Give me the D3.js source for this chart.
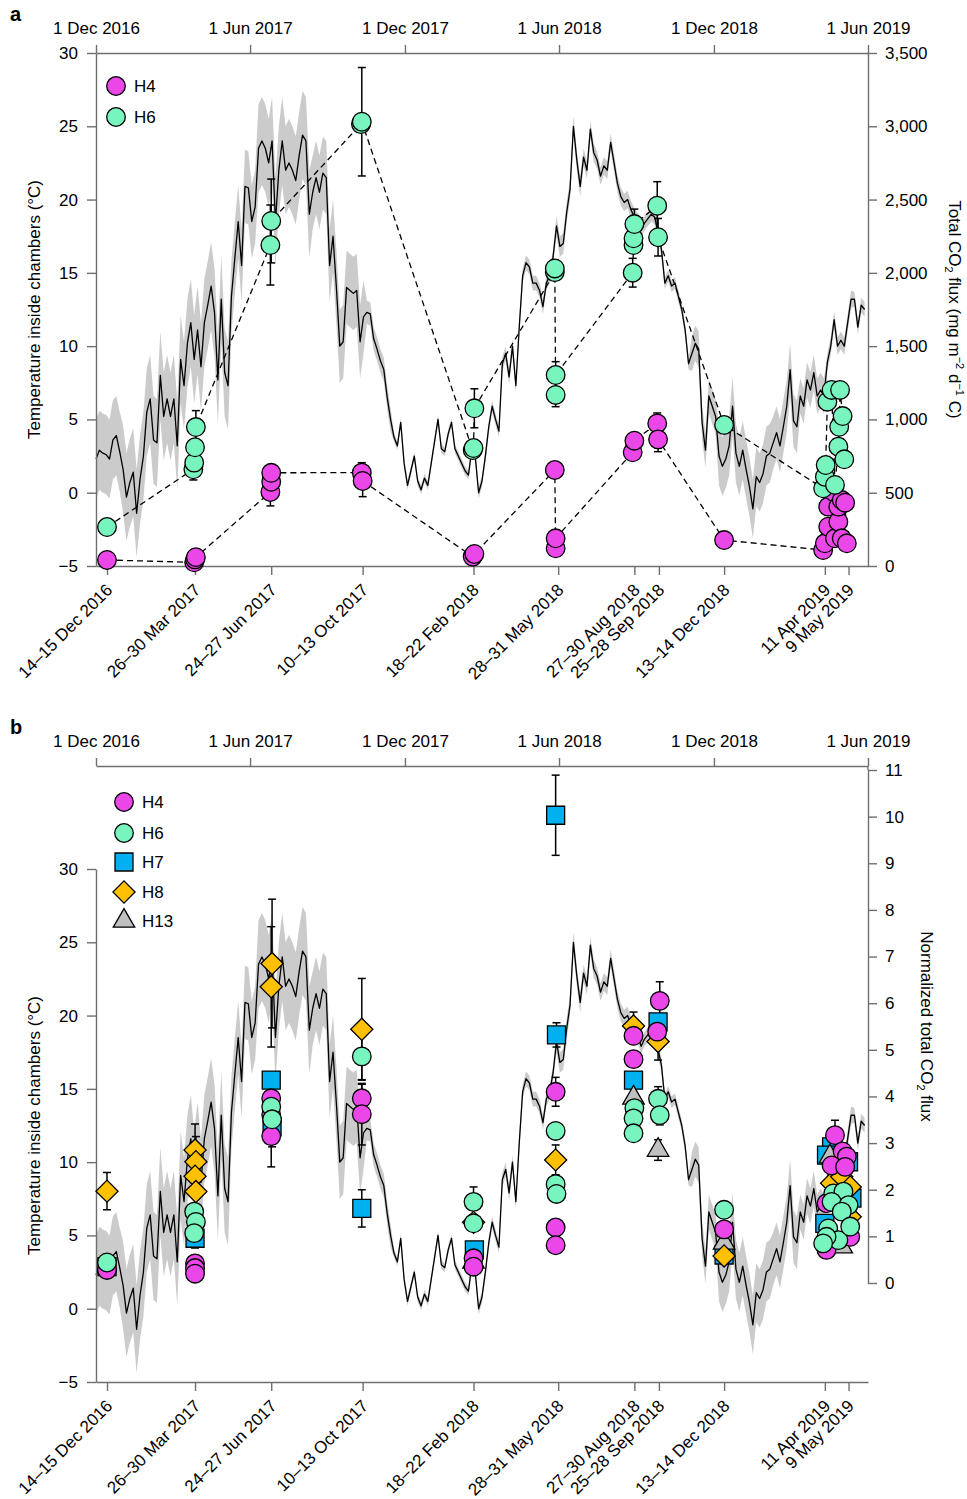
<!DOCTYPE html>
<html>
<head>
<meta charset="utf-8">
<script src="https://cdn.jsdelivr.net/npm/d3@7"></script>
<style>
  body { margin: 0; background: #fff; }
  svg { font-family: "Liberation Sans", Arial, Helvetica, sans-serif; }
</style>
</head>
<body>
<svg id="chart" width="967" height="1499"></svg>
<script>
// temperature inside chambers, one reading every 4 days from 1 Dec 2016
const tempStart = "2016-12-01";
const tempStepDays = 4;
const tempMean = [
  2.3, 2.9, 2.7, 2.6, 2.3, 3.6, 3.9, 2.8, 1.6, -0.3,
  0.7, 1.4, -1.4, 0.9, 2.5, 5.5, 6.4, 3.6, 3.4, 8.0,
  5.2, 6.4, 5.2, 6.4, 3.2, 9.1, 7.3, 10.2, 11.6, 9.1,
  11.1, 8.6, 11.6, 12.8, 14.1, 12.3, 7.7, 13.2, 8.2, 7.3,
  13.4, 16.0, 18.5, 15.5, 20.9, 20.8, 18.5, 19.5, 23.5, 24.0,
  23.5, 22.5, 24.0, 18.5, 22.0, 24.0, 22.0, 22.5, 22.0, 21.3,
  23.0, 24.4, 24.0, 19.0, 20.5, 21.5, 20.5, 21.8, 21.5, 15.5,
  17.5, 14.0, 10.0, 10.3, 14.0, 13.8, 13.6, 13.8, 10.3, 12.0,
  12.3, 12.2, 10.5, 9.8, 9.0, 8.4, 6.5, 5.0, 3.8, 3.2,
  4.8, 2.0, 0.5, 1.5, 2.5, 0.8, 0.2, 1.0, 0.5, 2.0,
  3.5, 5.0, 3.0, 2.8, 4.0, 4.8, 3.0, 2.5, 2.0, 1.5,
  1.2, 3.0, 2.5, 0.0, 0.8, 2.5, 4.5, 5.9, 5.0, 4.2,
  8.8, 9.5, 7.9, 10.0, 7.3, 11.3, 14.8, 15.7, 15.4, 14.3,
  14.3, 13.8, 12.7, 14.3, 14.8, 16.1, 18.2, 16.8, 17.0, 19.1,
  20.7, 25.0, 22.7, 20.9, 22.9, 22.0, 24.8, 23.2, 22.7, 21.6,
  22.3, 22.0, 23.9, 22.5, 21.1, 20.2, 19.8, 20.0, 19.3, 18.8,
  18.6, 17.9, 18.4, 18.7, 19.0, 18.8, 17.7, 16.6, 14.3, 14.8,
  14.1, 14.3, 13.4, 12.5, 11.1, 8.8, 9.5, 10.2, 9.8, 4.8,
  2.9, 6.6, 5.9, 5.2, 2.5, 1.8, 2.3, 3.2, 5.9, 2.7,
  1.8, 2.9, 1.6, 0.4, -1.1, 1.1, 0.7, 1.3, 2.5, 2.7,
  3.4, 4.1, 3.2, 4.5, 5.9, 8.4, 4.9, 4.5, 6.6, 5.9,
  7.7, 7.0, 8.2, 6.6, 7.0, 6.6, 8.9, 10.0, 11.8, 10.0,
  10.4, 10.0, 11.6, 13.2, 13.2, 11.3, 12.8, 12.5
];
// half width of the grey band, one value per 8 readings (32 days)
const tempSpread = [
  2.7, 3.0, 3.0, 3.0, 3.0, 2.5, 3.0, 3.0, 2.5, 2.5,
  0.8, 0.3, 0.3, 0.3, 0.4, 0.5, 0.5, 0.7, 0.6, 0.6,
  0.5, 0.4, 1.2, 2.0, 2.0, 1.8, 1.2, 0.6, 0.5
];

const topTickDates = ["2016-12-01", "2017-06-01", "2017-12-01", "2018-06-01", "2018-12-01", "2019-06-01"];
const topTickLabels = ["1 Dec 2016", "1 Jun 2017", "1 Dec 2017", "1 Jun 2018", "1 Dec 2018", "1 Jun 2019"];

const campaignDates = ["2016-12-14", "2017-03-28", "2017-06-26", "2017-10-12", "2018-02-20", "2018-05-31",
  "2018-08-29", "2018-09-27", "2018-12-13", "2019-04-11", "2019-05-09"];
const campaignLabels = ["14–15 Dec 2016", "26–30 Mar 2017", "24–27 Jun 2017", "10–13 Oct 2017", "18–22 Feb 2018",
  "28–31 May 2018", "27–30 Aug 2018", "25–28 Sep 2018", "13–14 Dec 2018", "11 Apr 2019", "9 May 2019"];

const tempTicks = [-5, 0, 5, 10, 15, 20, 25, 30];
const fluxTicks = [0, 500, 1000, 1500, 2000, 2500, 3000, 3500];
const normTicks = [0, 1, 2, 3, 4, 5, 6, 7, 8, 9, 10, 11];

// panel a: total CO2 flux (mg m-2 d-1 C) -> [date, value, error]
const h4Flux = [
  ["2016-12-14", 41, 0],
  ["2017-03-27", 25, 0], ["2017-03-28", 45, 0], ["2017-03-29", 60, 0],
  ["2017-06-25", 505, 95], ["2017-06-26", 575, 0], ["2017-06-26", 636, 0],
  ["2017-10-11", 637, 68], ["2017-10-12", 580, 107],
  ["2018-02-19", 64, 0], ["2018-02-21", 82, 0],
  ["2018-05-27", 655, 0], ["2018-05-28", 121, 0], ["2018-05-28", 189, 0],
  ["2018-08-27", 776, 0], ["2018-08-29", 855, 0],
  ["2018-09-25", 973, 71], ["2018-09-26", 864, 84],
  ["2018-12-13", 177, 0],
  ["2019-04-09", 109, 0], ["2019-04-11", 155, 0], ["2019-04-15", 268, 0], ["2019-04-15", 405, 0],
  ["2019-04-21", 507, 0], ["2019-04-23", 189, 0], ["2019-04-27", 302, 0], ["2019-04-27", 405, 0],
  ["2019-05-01", 450, 0], ["2019-05-01", 189, 0], ["2019-05-05", 432, 0], ["2019-05-07", 155, 0]
];
const h6Flux = [
  ["2016-12-14", 266, 0],
  ["2017-03-26", 660, 73], ["2017-03-27", 705, 0], ["2017-03-28", 810, 0], ["2017-03-29", 948, 112],
  ["2017-06-25", 2190, 273], ["2017-06-26", 2354, 286],
  ["2017-10-10", 3015, 0], ["2017-10-11", 3031, 370],
  ["2018-02-19", 791, 0], ["2018-02-20", 805, 0], ["2018-02-21", 1076, 133],
  ["2018-05-27", 2005, 0], ["2018-05-27", 2030, 60], ["2018-05-28", 1167, 80], ["2018-05-28", 1303, 91],
  ["2018-08-27", 2001, 98], ["2018-08-28", 2190, 0], ["2018-08-28", 2236, 0], ["2018-08-29", 2333, 102],
  ["2018-09-25", 2458, 164], ["2018-09-26", 2243, 128],
  ["2018-12-13", 962, 0],
  ["2019-04-09", 530, 0], ["2019-04-11", 609, 0], ["2019-04-12", 689, 0], ["2019-04-14", 1121, 0],
  ["2019-04-19", 1201, 0], ["2019-04-23", 553, 0], ["2019-04-27", 814, 0], ["2019-04-28", 950, 0],
  ["2019-04-29", 1201, 0], ["2019-05-02", 1023, 0], ["2019-05-04", 728, 0]
];

// panel b: normalized total CO2 flux -> [date, value, error]
const h4Norm = [
  ["2016-12-14", 0.28, 0],
  ["2017-03-28", 0.42, 0], ["2017-03-28", 0.32, 0], ["2017-03-28", 0.2, 0],
  ["2017-06-26", 3.96, 0], ["2017-06-26", 3.6, 0], ["2017-06-26", 3.15, 0.66],
  ["2017-10-11", 3.96, 0.3], ["2017-10-11", 3.62, 0.66],
  ["2018-02-20", 0.53, 0], ["2018-02-20", 0.35, 0],
  ["2018-05-28", 4.1, 0.31], ["2018-05-28", 1.19, 0], ["2018-05-28", 0.81, 0],
  ["2018-08-28", 5.3, 0], ["2018-08-28", 4.8, 0],
  ["2018-09-28", 6.05, 0.41], ["2018-09-25", 5.39, 0],
  ["2018-12-13", 1.15, 0],
  ["2019-04-23", 3.17, 0.32], ["2019-05-02", 2.82, 0], ["2019-05-07", 2.71, 0], ["2019-04-19", 2.52, 0],
  ["2019-05-05", 2.49, 0], ["2019-04-13", 1.71, 0], ["2019-04-13", 0.71, 0], ["2019-05-11", 0.99, 0]
];
const h6Norm = [
  ["2016-12-14", 0.44, 0],
  ["2017-03-27", 1.53, 0], ["2017-03-29", 1.31, 0], ["2017-03-27", 1.07, 0],
  ["2017-06-26", 3.78, 0], ["2017-06-27", 3.51, 0.59],
  ["2017-10-11", 4.86, 0.5],
  ["2018-02-20", 1.74, 0.32], ["2018-02-20", 1.28, 0],
  ["2018-05-28", 3.26, 0], ["2018-05-28", 2.12, 0], ["2018-05-29", 1.91, 0],
  ["2018-08-29", 3.75, 0], ["2018-08-28", 3.53, 0], ["2018-08-28", 3.21, 0],
  ["2018-09-26", 3.95, 0.26], ["2018-09-28", 3.6, 0.21],
  ["2018-12-13", 1.57, 0],
  ["2019-04-21", 1.92, 0], ["2019-05-03", 1.96, 0], ["2019-04-19", 1.74, 0], ["2019-05-09", 1.67, 0],
  ["2019-05-01", 1.53, 0], ["2019-04-15", 1.17, 0], ["2019-04-27", 0.92, 0], ["2019-04-13", 0.99, 0],
  ["2019-05-11", 1.21, 0], ["2019-04-09", 0.85, 0]
];
const h7Norm = [
  ["2016-12-14", 0.35, 0],
  ["2017-03-28", 0.96, 0.21],
  ["2017-06-26", 4.35, 0], ["2017-06-27", 3.35, 0],
  ["2017-10-11", 1.6, 0.4],
  ["2018-02-21", 0.71, 0],
  ["2018-05-28", 10.03, 0.86], ["2018-05-29", 5.32, 0.26],
  ["2018-08-28", 4.35, 0],
  ["2018-09-26", 5.6, 0],
  ["2018-12-13", 0.6, 0],
  ["2019-04-19", 2.92, 0], ["2019-04-13", 2.74, 0], ["2019-04-11", 1.28, 0], ["2019-05-13", 1.82, 0],
  ["2019-05-09", 2.6, 0]
];
const h8Norm = [
  ["2016-12-14", 1.97, 0.4],
  ["2017-03-28", 2.85, 0.56], ["2017-03-29", 2.6, 0.54], ["2017-03-28", 2.29, 0], ["2017-03-29", 1.96, 0],
  ["2017-06-27", 6.85, 1.38], ["2017-06-26", 6.35, 1.29],
  ["2017-10-11", 5.44, 1.09],
  ["2018-02-20", 1.3, 0],
  ["2018-05-28", 2.64, 0.32],
  ["2018-08-28", 5.51, 0.3],
  ["2018-09-26", 5.18, 0.4],
  ["2018-12-13", 0.58, 0],
  ["2019-04-19", 2.14, 0], ["2019-05-01", 2.28, 0], ["2019-05-11", 2.06, 0], ["2019-05-11", 1.42, 0]
];
const h13Norm = [
  ["2018-02-20", 0.45, 0],
  ["2018-08-28", 3.97, 0],
  ["2018-09-26", 2.85, 0.22],
  ["2018-12-13", 0.86, 0],
  ["2019-04-17", 2.71, 0], ["2019-05-01", 0.78, 0]
];

const colH4 = "#ea46e8", colH6 = "#78f4be", colH7 = "#00b0f0", colH8 = "#ffc000", colH13 = "#c0c0c0";
const axisColor = "#6f6f6f";

const svg = d3.select("#chart");
const parseDate = d3.timeParse("%Y-%m-%d");

const x = d3.scaleTime()
  .domain([parseDate("2016-12-01"), parseDate("2019-06-01")])
  .range([96, 868]);

const tempRows = tempMean.map((t, i) => ({
  date: d3.timeDay.offset(parseDate(tempStart), i * tempStepDays),
  t: t,
  s: tempSpread[Math.floor(i / 8)]
}));

const symbolPath = {
  circle: d3.symbol(d3.symbolCircle, 272)(),
  square: d3.symbol(d3.symbolSquare, 324)(),
  diamond: d3.symbol(d3.symbolSquare, 245)(),
  triangle: d3.symbol(d3.symbolTriangle, 200)()
};

function marker(g, shape, color, cx, cy) {
  g.append("path")
    .attr("d", symbolPath[shape])
    .attr("transform", `translate(${cx},${cy})` + (shape === "diamond" ? " rotate(45)" : ""))
    .attr("fill", color)
    .attr("stroke", "#000")
    .attr("stroke-width", 1.3);
}

function styleAxis(sel) {
  sel.attr("font-size", 17).attr("font-family", null);
  sel.selectAll(".domain, .tick line").attr("stroke", axisColor).attr("stroke-width", 1.4);
  sel.selectAll(".tick text").attr("fill", "#000");
}

function drawPanel(p) {
  const g = svg.append("g");
  const yT = d3.scaleLinear().domain([-5, 30]).range([p.tBottom, p.tTop]);
  const yR = d3.scaleLinear().domain(p.rDomain).range([p.rBottom, p.rTop]);

  // grey band + temperature line
  g.append("path").datum(tempRows)
    .attr("fill", "#cbcbcb")
    .attr("d", d3.area()
      .x(d => x(d.date))
      .y0(d => yT(d.t - d.s))
      .y1(d => yT(d.t + d.s)));
  g.append("path").datum(tempRows)
    .attr("fill", "none")
    .attr("stroke", "#000")
    .attr("stroke-width", 1.3)
    .attr("stroke-linejoin", "round")
    .attr("d", d3.line().x(d => x(d.date)).y(d => yT(d.t)));

  // axes
  const top = g.append("g")
    .attr("transform", `translate(0,${p.axisTop})`)
    .call(d3.axisTop(x)
      .tickValues(topTickDates.map(parseDate))
      .tickFormat((d, i) => topTickLabels[i])
      .tickSizeInner(8).tickSizeOuter(0).tickPadding(11));
  styleAxis(top);

  const left = g.append("g")
    .attr("transform", "translate(96,0)")
    .call(d3.axisLeft(yT).tickValues(tempTicks).tickFormat(d3.format("d"))
      .tickSizeInner(9).tickSizeOuter(0).tickPadding(9));
  styleAxis(left);

  const right = g.append("g")
    .attr("transform", "translate(868,0)")
    .call(d3.axisRight(yR).tickValues(p.rTicks).tickFormat(p.rFormat)
      .tickSizeInner(9).tickSizeOuter(0).tickPadding(8));
  styleAxis(right);
  if (p.rTop > p.axisTop) {
    g.append("line")
      .attr("x1", 868).attr("x2", 868)
      .attr("y1", p.axisTop).attr("y2", p.rTop)
      .attr("stroke", axisColor).attr("stroke-width", 1.4);
  }

  const bottom = g.append("g")
    .attr("transform", `translate(0,${p.tBottom})`)
    .call(d3.axisBottom(x).tickValues(campaignDates.map(parseDate)).tickFormat("")
      .tickSizeInner(9).tickSizeOuter(0));
  styleAxis(bottom);
  bottom.selectAll(".tick").append("text")
    .attr("text-anchor", "end")
    .attr("fill", "#000")
    .attr("transform", "translate(6,25) rotate(-45)")
    .text((d, i) => campaignLabels[i]);

  // axis titles
  g.append("text")
    .attr("transform", `translate(40,${(p.tTop + p.tBottom) / 2}) rotate(-90)`)
    .attr("text-anchor", "middle")
    .attr("font-size", 17)
    .text("Temperature inside chambers (°C)");

  const rt = g.append("text")
    .attr("transform", `translate(${p.rTitleX},${(p.rTop + p.rBottom) / 2}) rotate(90)`)
    .attr("text-anchor", "middle")
    .attr("font-size", 17);
  p.rTitle.forEach(part => {
    const ts = rt.append("tspan").text(part[0]);
    if (part[1] === "sub") ts.attr("font-size", 11).attr("dy", 4);
    else if (part[1] === "sup") ts.attr("font-size", 11).attr("dy", -7);
    else if (part[1] === "back-sub") ts.attr("dy", -4);
    else if (part[1] === "back-sup") ts.attr("dy", 7);
  });

  // panel letter
  g.append("text")
    .attr("x", 10).attr("y", p.letterY)
    .attr("font-size", 20).attr("font-weight", "bold")
    .text(p.letter);

  // dashed connections (panel a only)
  (p.dashed || []).forEach(rows => {
    const sorted = rows.slice().sort((a, b) => d3.ascending(a[0], b[0]));
    g.append("path").datum(sorted)
      .attr("fill", "none")
      .attr("stroke", "#000")
      .attr("stroke-width", 1.3)
      .attr("stroke-dasharray", "6,4")
      .attr("d", d3.line().x(d => x(parseDate(d[0]))).y(d => yR(d[1])));
  });

  // error bars
  p.series.forEach(s => {
    s.rows.filter(r => r[2] > 0).forEach(r => {
      const cx = x(parseDate(r[0]));
      const y0 = yR(r[1] - r[2]), y1 = yR(r[1] + r[2]);
      g.append("line").attr("x1", cx).attr("x2", cx).attr("y1", y0).attr("y2", y1)
        .attr("stroke", "#000").attr("stroke-width", 1.5);
      [y0, y1].forEach(yy => g.append("line")
        .attr("x1", cx - 4).attr("x2", cx + 4).attr("y1", yy).attr("y2", yy)
        .attr("stroke", "#000").attr("stroke-width", 1.5));
    });
  });

  // markers
  p.series.forEach(s => {
    s.rows.forEach(r => marker(g, s.shape, s.color, x(parseDate(r[0])), yR(r[1])));
  });

  // legend
  p.legend.forEach((s, i) => {
    const ly = p.legendY[i];
    marker(g, s.shape, s.color, p.legendX, ly);
    g.append("text")
      .attr("x", p.legendX + 18).attr("y", ly + 6)
      .attr("font-size", 17)
      .text(s.name);
  });
}

const sH4a = { name: "H4", rows: h4Flux, color: colH4, shape: "circle" };
const sH6a = { name: "H6", rows: h6Flux, color: colH6, shape: "circle" };

drawPanel({
  letter: "a", letterY: 21,
  axisTop: 53, tTop: 53, tBottom: 566,
  rTop: 53, rBottom: 566, rDomain: [0, 3500], rTicks: fluxTicks, rFormat: d3.format(","),
  rTitleX: 949,
  rTitle: [["Total CO"], ["2", "sub"], [" flux (mg m", "back-sub"], ["−2", "sup"], [" d", "back-sup"],
    ["−1", "sup"], [" C)", "back-sup"]],
  dashed: [h4Flux, h6Flux],
  series: [sH4a, sH6a],
  legend: [sH4a, sH6a], legendX: 116, legendY: [86, 117]
});

const sH4b = { name: "H4", rows: h4Norm, color: colH4, shape: "circle" };
const sH6b = { name: "H6", rows: h6Norm, color: colH6, shape: "circle" };
const sH7b = { name: "H7", rows: h7Norm, color: colH7, shape: "square" };
const sH8b = { name: "H8", rows: h8Norm, color: colH8, shape: "diamond" };
const sH13b = { name: "H13", rows: h13Norm, color: colH13, shape: "triangle" };

drawPanel({
  letter: "b", letterY: 734,
  axisTop: 766, tTop: 869, tBottom: 1382,
  rTop: 770, rBottom: 1283, rDomain: [0, 11], rTicks: normTicks, rFormat: d3.format("d"),
  rTitleX: 921,
  rTitle: [["Normalized total CO"], ["2", "sub"], [" flux", "back-sub"]],
  series: [sH7b, sH13b, sH8b, sH4b, sH6b],
  legend: [sH4b, sH6b, sH7b, sH8b, sH13b], legendX: 124, legendY: [802, 833, 862, 892, 921]
});
</script>
</body>
</html>
